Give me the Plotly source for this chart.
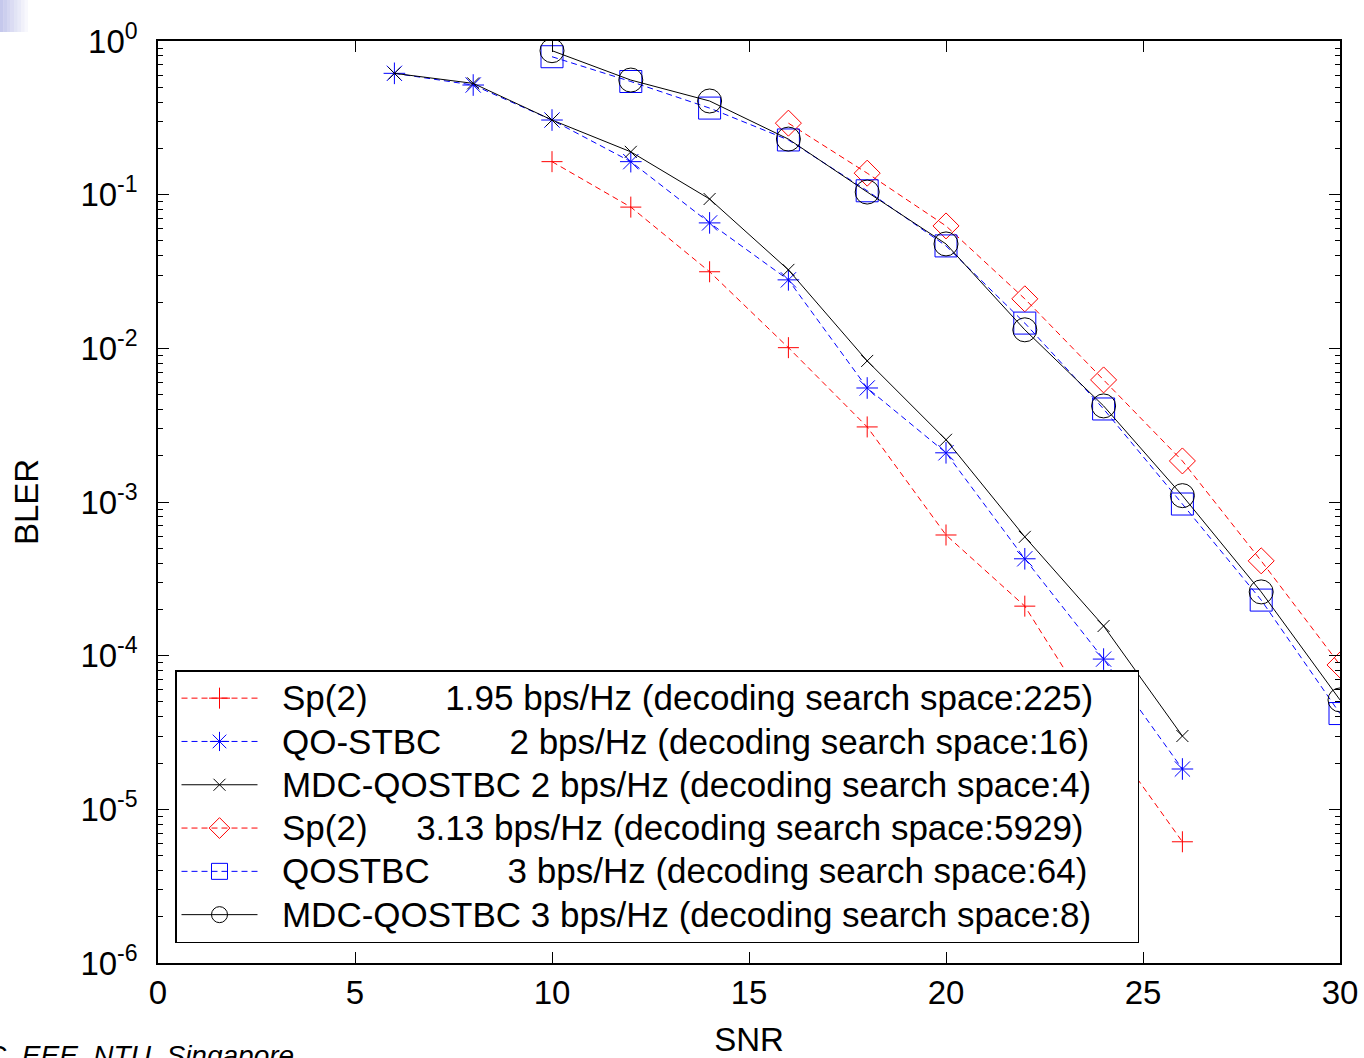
import plotly.graph_objects as go

# ---------------- data ----------------
snr_sp2_low = [10, 12, 14, 16, 18, 20, 22, 24, 26]
bler_sp2_low = [0.164, 0.083, 0.0315, 0.0101, 0.00308, 6.1e-4, 2.1e-4, 3.2e-5, 6.15e-6]

snr_2bps = [6, 8, 10, 12, 14, 16, 18, 20, 22, 24, 26]
bler_qo_stbc = [0.616, 0.517, 0.306, 0.164, 0.0655, 0.0279, 0.00552, 0.00209, 4.27e-4, 9.5e-5, 1.83e-5]
bler_mdc_2 = [0.616, 0.53, 0.306, 0.19, 0.0937, 0.0324, 0.00828, 0.00254, 5.93e-4, 1.56e-4, 3.0e-5]

snr_sp2_high = [16, 18, 20, 22, 24, 26, 28, 30]
bler_sp2_high = [0.292, 0.138, 0.0626, 0.021, 0.00623, 0.00185, 4.14e-4, 8.7e-5]

snr_3bps = [10, 12, 14, 16, 18, 20, 22, 24, 26, 28, 30]
bler_qostbc = [0.79, 0.545, 0.366, 0.227, 0.106, 0.0464, 0.0146, 0.00403, 9.7e-4, 2.3e-4, 4.2e-5]
bler_mdc_3 = [0.865, 0.557, 0.407, 0.230, 0.104, 0.0478, 0.0132, 0.00422, 0.0011, 2.6e-4, 5.15e-5]

NB = "\u00a0"
LEAD = NB * 2
TRAIL = NB * 4
label_texts = [
    "Sp(2)" + NB * 8 + "1.95 bps/Hz (decoding search space:225)",
    "QO-STBC" + NB * 7 + "2 bps/Hz (decoding search space:16)",
    "MDC-QOSTBC 2 bps/Hz (decoding search space:4)",
    "Sp(2)" + NB * 5 + "3.13 bps/Hz (decoding search space:5929)",
    "QOSTBC" + NB * 8 + "3 bps/Hz (decoding search space:64)",
    "MDC-QOSTBC 3 bps/Hz (decoding search space:8)",
]
names = ['<span style="font-size:35px">' + LEAD + t + TRAIL + "</span>" for t in label_texts]

y_tick_vals = [1e-6, 1e-5, 1e-4, 1e-3, 1e-2, 1e-1, 1]
y_tick_text = ["10<sup>-6</sup>", "10<sup>-5</sup>", "10<sup>-4</sup>", "10<sup>-3</sup>",
               "10<sup>-2</sup>", "10<sup>-1</sup>", "10<sup>0</sup>"]
y_minor_vals = [m * 10.0 ** e for e in range(-6, 0) for m in range(2, 10)]

FONT = "Liberation Sans, Arial, sans-serif"
DASH = "6px,4px"

fig = go.Figure()

series = [
    (snr_sp2_low, bler_sp2_low, names[0], "red", DASH, "cross-thin-open", 15),
    (snr_2bps, bler_qo_stbc, names[1], "blue", DASH, "asterisk-open", 18),
    (snr_2bps, bler_mdc_2, names[2], "black", "solid", "x-thin-open", 12),
    (snr_sp2_high, bler_sp2_high, names[3], "red", DASH, "diamond-open", 20),
    (snr_3bps, bler_qostbc, names[4], "blue", DASH, "square-open", 22),
    (snr_3bps, bler_mdc_3, names[5], "black", "solid", "circle-open", 24),
]
for x, y, name, col, dash, sym, size in series:
    fig.add_trace(go.Scatter(
        x=x, y=y, name=name, mode="lines+markers",
        line=dict(color=col, width=1, dash=dash),
        marker=dict(symbol=sym, size=size, color=col, line=dict(color=col, width=1)),
    ))

W, H = 1364, 1058
ML, MR, MT, MB = 158, 24, 41, 95
PW, PH = W - ML - MR, H - MT - MB


def px_x(px):
    return (px - ML) / PW


def px_y(py):
    return (H - MB - py) / PH


fig.update_layout(
    width=W, height=H,
    margin=dict(l=ML, r=MR, t=MT, b=MB, autoexpand=False),
    paper_bgcolor="white", plot_bgcolor="white",
    font=dict(family=FONT, size=33, color="black"),
    showlegend=True,
    legend=dict(
        x=px_x(175), y=px_y(943), xanchor="left", yanchor="bottom",
        bgcolor="white", bordercolor="black", borderwidth=1.5,
        font=dict(family=FONT, size=31, color="black"),
        itemwidth=76, tracegroupgap=0,
    ),
    xaxis=dict(
        range=[0, 30], dtick=5, tick0=0, automargin=False,
        showgrid=False, zeroline=False,
        showline=True, linecolor="black", linewidth=1.5, mirror="ticks",
        ticks="inside", ticklen=11, tickwidth=1, tickcolor="black",
        tickfont=dict(family=FONT, size=33, color="black"),
        ticklabelstandoff=0,
        title=dict(text="SNR", font=dict(family=FONT, size=33, color="black"), standoff=20),
    ),
    yaxis=dict(
        type="log", range=[-6, 0], automargin=False,
        tickmode="array", tickvals=y_tick_vals, ticktext=y_tick_text,
        showgrid=False, zeroline=False,
        showline=True, linecolor="black", linewidth=1.5, mirror="ticks",
        ticks="inside", ticklen=11, tickwidth=1, tickcolor="black",
        tickfont=dict(family=FONT, size=33, color="black"),
        ticklabelstandoff=12,
        minor=dict(ticks="inside", ticklen=5, tickwidth=1, tickcolor="black",
                   tickvals=y_minor_vals, showgrid=False),
        title=dict(text="BLER", font=dict(family=FONT, size=33, color="black"), standoff=32),
    ),
)

# footer text of the slide (partly cut off at the page edge)
fig.add_annotation(
    xref="paper", yref="paper", x=px_x(-16), y=px_y(1055),
    xanchor="left", yanchor="middle", showarrow=False,
    text="<i>C, EEE, NTU, Singapore</i>",
    font=dict(family=FONT, size=28, color="black"),
)

# slide decoration: small gradient block at the top-left corner
steps = 8
for i in range(steps):
    x0 = i * 28 / steps
    x1 = (i + 1) * 28 / steps
    a = 0.55 * (1 - i / steps)
    fig.add_shape(type="rect", xref="paper", yref="paper",
                  x0=px_x(x0), x1=px_x(x1), y0=px_y(32), y1=px_y(0),
                  fillcolor=f"rgba(150,155,220,{a:.3f})", line=dict(width=0), layer="below")

fig.write_html("out.html",
               config={"displayModeBar": False},
               post_script="document.body.style.margin='0px';document.body.style.overflow='hidden';")
